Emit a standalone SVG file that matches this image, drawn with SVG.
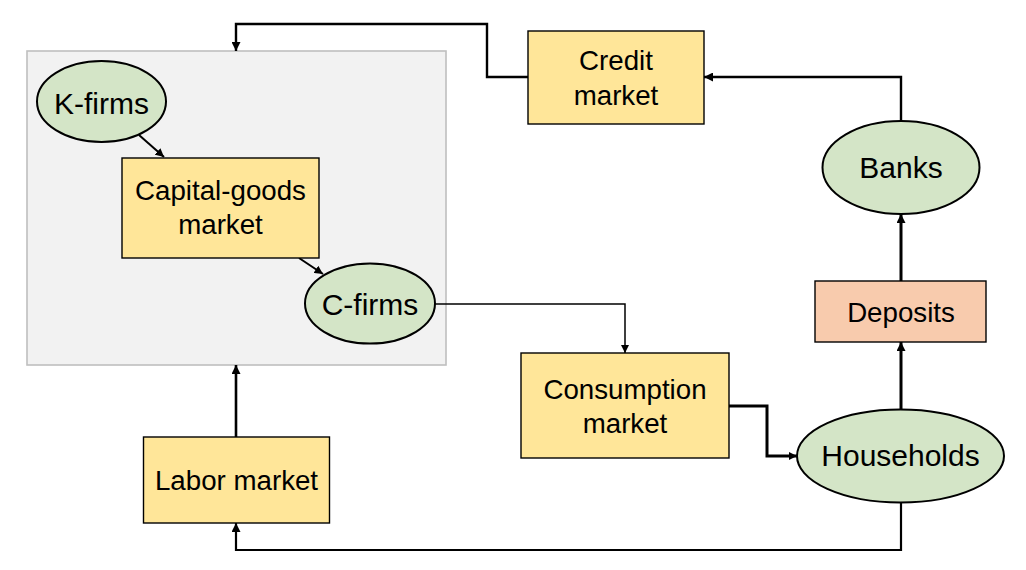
<svg xmlns="http://www.w3.org/2000/svg" width="1026" height="570" viewBox="0 0 1026 570">
<style>
.t{font-family:"Liberation Sans",Arial,sans-serif;fill:#000;text-anchor:middle}
.r{font-size:27.7px}
.e{font-size:30px}
.mk{fill:#ffe699;stroke:#000;stroke-width:1.4}
.ag{fill:#d4e5c7;stroke:#000;stroke-width:2}
.dep{fill:#f8cbad;stroke:#000;stroke-width:1.4}
.c{fill:none;stroke:#000;stroke-linejoin:miter}
</style>
<defs>
<marker id="a" viewBox="0 0 10 10" refX="10" refY="5" markerUnits="userSpaceOnUse" markerWidth="9" markerHeight="9" orient="auto"><path d="M0,0L10,5L0,10z" fill="#000"/></marker>
<marker id="s" viewBox="0 0 10 10" refX="10" refY="5" markerUnits="userSpaceOnUse" markerWidth="8.5" markerHeight="8.5" orient="auto"><path d="M0,0L10,5L0,10z" fill="#000"/></marker>
</defs>
<rect x="27" y="51" width="419" height="314" fill="#f2f2f2" stroke="#bfbfbf" stroke-width="1.6"/>
<g id="connectors">
<path class="c" stroke-width="2" d="M139,135L164,157" marker-end="url(#s)"/>
<path class="c" stroke-width="2" d="M299,258L323,274" marker-end="url(#s)"/>
<path class="c" stroke-width="1.5" d="M435,304H625V353" marker-end="url(#s)"/>
<path class="c" stroke-width="3" d="M729,406H767V456H797" marker-end="url(#s)"/>
<path class="c" stroke-width="3" d="M901,409V342" marker-end="url(#a)"/>
<path class="c" stroke-width="3" d="M901,281V214" marker-end="url(#a)"/>
<path class="c" stroke-width="2.4" d="M901,121V77H704" marker-end="url(#a)"/>
<path class="c" stroke-width="2.4" d="M528,77H487V24H236V51" marker-end="url(#a)"/>
<path class="c" stroke-width="2.6" d="M236,437V365" marker-end="url(#a)"/>
<path class="c" stroke-width="2.2" d="M901,503V550H236V523" marker-end="url(#a)"/>
</g>
<g id="kfirms"><ellipse class="ag" cx="101.5" cy="101.5" rx="64.5" ry="40.5"/><text class="t e" x="101.5" y="113.5">K-firms</text></g>
<g id="capital-goods-market"><rect class="mk" x="122" y="158" width="197" height="100"/><text class="t r" x="220.5" y="200">Capital-goods</text><text class="t r" x="220.5" y="234">market</text></g>
<g id="cfirms"><ellipse class="ag" cx="370" cy="303.5" rx="65" ry="40"/><text class="t e" x="370" y="315">C-firms</text></g>
<g id="credit-market"><rect class="mk" x="528" y="31" width="176" height="93"/><text class="t r" x="616" y="69.5">Credit</text><text class="t r" x="616" y="104.5">market</text></g>
<g id="banks"><ellipse class="ag" cx="901" cy="167.5" rx="78.5" ry="46.5"/><text class="t e" x="901" y="177.5">Banks</text></g>
<g id="deposits"><rect class="dep" x="815" y="281" width="171" height="61"/><text class="t r" x="901" y="321.5">Deposits</text></g>
<g id="consumption-market"><rect class="mk" x="521" y="353" width="208" height="105"/><text class="t r" x="625" y="398.5">Consumption</text><text class="t r" x="625" y="432.5">market</text></g>
<g id="households"><ellipse class="ag" cx="900.5" cy="456" rx="103.5" ry="46.5"/><text class="t e" x="900.5" y="465.5">Households</text></g>
<g id="labor-market"><rect class="mk" x="143.5" y="437" width="186" height="86"/><text class="t r" x="236.5" y="489.5">Labor market</text></g>
</svg>
